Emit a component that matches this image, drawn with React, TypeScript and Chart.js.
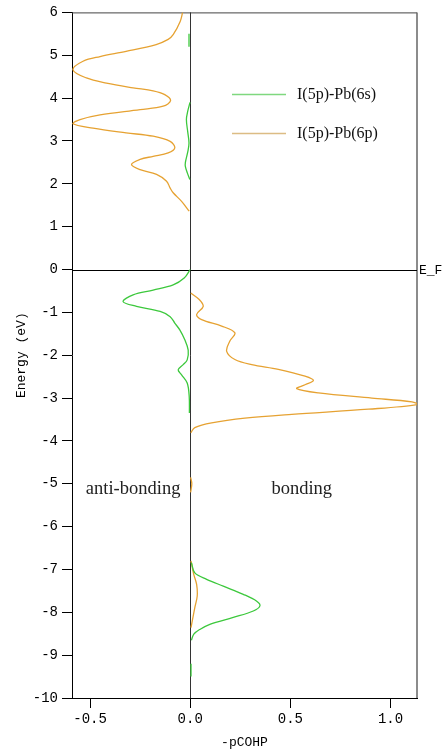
import React, { useEffect, useRef } from "react";
import { Chart, registerables } from "chart.js";

Chart.register(...registerables);

// Energy (eV) sample points, null marks a gap between drawn segments
const energyPbS: (number | null)[] = [
  5.5, 5.2, null,
  3.9, 3.7, 3.5, 3.2, 2.95, 2.75, 2.5, 2.4, 2.25, 2.1, null,
  0.0, -0.2, -0.36, -0.48, -0.59, -0.75, -0.86, -0.98, -1.1, -1.25, -1.41, -1.64, -1.88, -2.11, -2.22, -2.34, -2.46, -2.65, -2.96, -3.35, null,
  -6.84, -7.08, -7.23, -7.39, -7.58, -7.74, -7.85, -7.97, -8.12, -8.28, -8.4, -8.51, -8.65, null,
  -9.2, -9.5,
];
// -pCOHP for I(5p)-Pb(6s)
const cohpPbS: (number | null)[] = [
  -0.006, -0.006, null,
  -0.001, -0.012, -0.019, -0.012, -0.006, -0.012, -0.024, -0.024, -0.014, -0.002, null,
  0.0, -0.03, -0.085, -0.185, -0.285, -0.335, -0.268, -0.15, -0.1, -0.077, -0.052, -0.027, -0.01, -0.015, -0.035, -0.06, -0.043, -0.015, -0.005, -0.004, null,
  0.006, 0.023, 0.082, 0.165, 0.265, 0.332, 0.348, 0.315, 0.215, 0.098, 0.048, 0.018, 0.006, null,
  0.004, 0.004,
];

const energyPbP: (number | null)[] = [
  6.0, 5.79, 5.48, 5.37, 5.25, 5.09, 4.97, 4.86, 4.66, 4.47, 4.35, 4.24, 4.17, 4.08, 3.94, 3.81, 3.73, 3.61, 3.5, 3.4, 3.3, 3.19, 3.11, 2.99, 2.84, 2.72, 2.64, 2.57, 2.45, 2.33, 2.22, 2.06, 1.9, 1.79, 1.59, 1.36, null,
  -0.55, -0.7, -0.86, -1.05, -1.17, -1.32, -1.48, -1.67, -1.91, -2.1, -2.22, -2.33, -2.49, -2.59, -2.69, -2.78, -2.88, -3.0, -3.09, -3.15, -3.26, -3.38, -3.47, -3.58, -3.69, -3.81, null,
  -4.85, -5.0, -5.2, null,
  -6.8, -7.12, -7.35, -7.62, -7.89, -8.16, -8.36,
];
// -pCOHP for I(5p)-Pb(6p)
const cohpPbP: (number | null)[] = [
  -0.038, -0.05, -0.085, -0.11, -0.17, -0.32, -0.45, -0.535, -0.585, -0.518, -0.418, -0.285, -0.185, -0.127, -0.098, -0.135, -0.25, -0.45, -0.55, -0.585, -0.485, -0.32, -0.185, -0.1, -0.077, -0.11, -0.185, -0.25, -0.293, -0.25, -0.168, -0.118, -0.1, -0.085, -0.043, -0.005, null,
  0.003, 0.045, 0.065, 0.032, 0.057, 0.157, 0.223, 0.198, 0.182, 0.223, 0.307, 0.44, 0.573, 0.615, 0.573, 0.532, 0.64, 0.907, 1.107, 1.135, 0.89, 0.507, 0.273, 0.107, 0.023, 0.003, null,
  0.002, 0.008, 0.002, null,
  0.004, 0.018, 0.032, 0.035, 0.023, 0.012, 0.004,
];

const seriesNames = ["I(5p)-Pb(6s)", "I(5p)-Pb(6p)"];
const seriesColors = ["#3cc83c", "#e6a232"];
const legendColors = ["#7fd87f", "#dcbc84"];
const xTickValues = [-0.5, 0, 0.5, 1.0];

const toPoints = (e: (number | null)[], v: (number | null)[]) =>
  e.map((en, i) => ({ x: v[i] === null ? null : v[i], y: en === null ? null : en }));

const MONO = "'Liberation Mono', 'DejaVu Sans Mono', monospace";
const SERIF = "'Liberation Serif', 'DejaVu Serif', serif";

export default function App() {
  const ref = useRef<HTMLCanvasElement | null>(null);

  useEffect(() => {
    document.body.style.margin = "0";
    const canvas = ref.current!;
    const overlay = {
      id: "overlay",
      beforeDatasetsDraw(chart: any) {
        const { ctx, chartArea: a, scales } = chart;
        const xs = scales.x;
        const ys = scales.y;
        ctx.save();
        // top border
        ctx.strokeStyle = "#444";
        ctx.lineWidth = 1;
        ctx.beginPath();
        ctx.moveTo(a.left, a.top + 0.5);
        ctx.lineTo(a.right, a.top + 0.5);
        ctx.stroke();
        // right border
        ctx.strokeStyle = "#666";
        ctx.lineWidth = 1.5;
        ctx.beginPath();
        ctx.moveTo(a.right, a.top);
        ctx.lineTo(a.right, a.bottom);
        ctx.stroke();
        // x = 0 line
        const x0 = Math.round(xs.getPixelForValue(0)) + 0.5;
        ctx.strokeStyle = "#333";
        ctx.lineWidth = 1;
        ctx.beginPath();
        ctx.moveTo(x0, a.top);
        ctx.lineTo(x0, a.bottom);
        ctx.stroke();
        // E = 0 line
        const y0 = Math.round(ys.getPixelForValue(0)) + 0.5;
        ctx.strokeStyle = "#000";
        ctx.beginPath();
        ctx.moveTo(a.left, y0);
        ctx.lineTo(a.right, y0);
        ctx.stroke();
        ctx.restore();
      },
      afterDraw(chart: any) {
        const { ctx, chartArea: a, scales } = chart;
        const xs = scales.x;
        const ys = scales.y;
        ctx.save();
        ctx.fillStyle = "#000";
        // legend
        seriesNames.forEach((name, i) => {
          const ly = a.top + 82 + i * 39;
          ctx.strokeStyle = legendColors[i];
          ctx.lineWidth = 1.5;
          ctx.beginPath();
          ctx.moveTo(a.left + 160, ly);
          ctx.lineTo(a.left + 214, ly);
          ctx.stroke();
          ctx.font = `16px ${SERIF}`;
          ctx.textAlign = "left";
          ctx.textBaseline = "middle";
          ctx.fillStyle = "#111";
          ctx.fillText(name, a.left + 225, ly);
        });
        // annotations
        ctx.font = `18.5px ${SERIF}`;
        ctx.textAlign = "center";
        ctx.textBaseline = "middle";
        ctx.fillStyle = "#222";
        ctx.fillText("anti-bonding", xs.getPixelForValue(-0.285), ys.getPixelForValue(-5.12));
        ctx.fillText("bonding", xs.getPixelForValue(0.557), ys.getPixelForValue(-5.12));
        // E_F label
        ctx.font = `13px ${MONO}`;
        ctx.textAlign = "left";
        ctx.fillStyle = "#000";
        ctx.fillText("E_F", a.right + 2, ys.getPixelForValue(0) + 1);
        // axis titles
        ctx.font = `13px ${MONO}`;
        ctx.textAlign = "center";
        ctx.fillText("-pCOHP", (a.left + a.right) / 2, 743);
        ctx.save();
        ctx.translate(22, (a.top + a.bottom) / 2);
        ctx.rotate(-Math.PI / 2);
        ctx.fillText("Energy (eV)", 0, 0);
        ctx.restore();
        ctx.restore();
      },
    };

    const chart = new Chart(canvas, {
      type: "scatter",
      data: {
        datasets: [
          {
            label: seriesNames[0],
            data: toPoints(energyPbS, cohpPbS) as any,
            showLine: true,
            borderColor: seriesColors[0],
            backgroundColor: seriesColors[0],
            borderWidth: 1.3,
            pointRadius: 0,
            tension: 0.35,
            spanGaps: false,
          },
          {
            label: seriesNames[1],
            data: toPoints(energyPbP, cohpPbP) as any,
            showLine: true,
            borderColor: seriesColors[1],
            backgroundColor: seriesColors[1],
            borderWidth: 1.3,
            pointRadius: 0,
            tension: 0.35,
            spanGaps: false,
          },
        ],
      },
      options: {
        responsive: false,
        animation: false,
        devicePixelRatio: 1,
        layout: { padding: { top: 11, right: 25, left: 0, bottom: 0 } },
        plugins: { legend: { display: false }, tooltip: { enabled: false } },
        scales: {
          x: {
            type: "linear",
            min: -0.59,
            max: 1.132,
            afterFit: (s: any) => {
              s.height = 55;
            },
            afterBuildTicks: (s: any) => {
              s.ticks = xTickValues.map((v) => ({ value: v }));
            },
            ticks: {
              color: "#000",
              font: { family: MONO, size: 14 },
              padding: 3,
              maxRotation: 0,
              callback: (v: any) => Number(v).toFixed(1),
            },
            grid: {
              display: true,
              drawOnChartArea: false,
              drawTicks: true,
              tickLength: 10,
              color: "#000",
            },
            border: { display: true, color: "#000", width: 1 },
          },
          y: {
            type: "linear",
            min: -10,
            max: 6,
            afterFit: (s: any) => {
              s.width = 72;
            },
            ticks: {
              stepSize: 1,
              color: "#000",
              font: { family: MONO, size: 14 },
              padding: 4,
              callback: (v: any) => String(v),
            },
            grid: {
              display: true,
              drawOnChartArea: false,
              drawTicks: true,
              tickLength: 10,
              color: "#000",
            },
            border: { display: true, color: "#000", width: 1 },
          },
        },
      },
      plugins: [overlay],
    });
    return () => chart.destroy();
  }, []);

  return (
    <div style={{ position: "absolute", left: 0, top: 0, width: 442, height: 753, background: "#fff" }}>
      <canvas ref={ref} width={442} height={753} style={{ width: 442, height: 753, display: "block" }} />
    </div>
  );
}
